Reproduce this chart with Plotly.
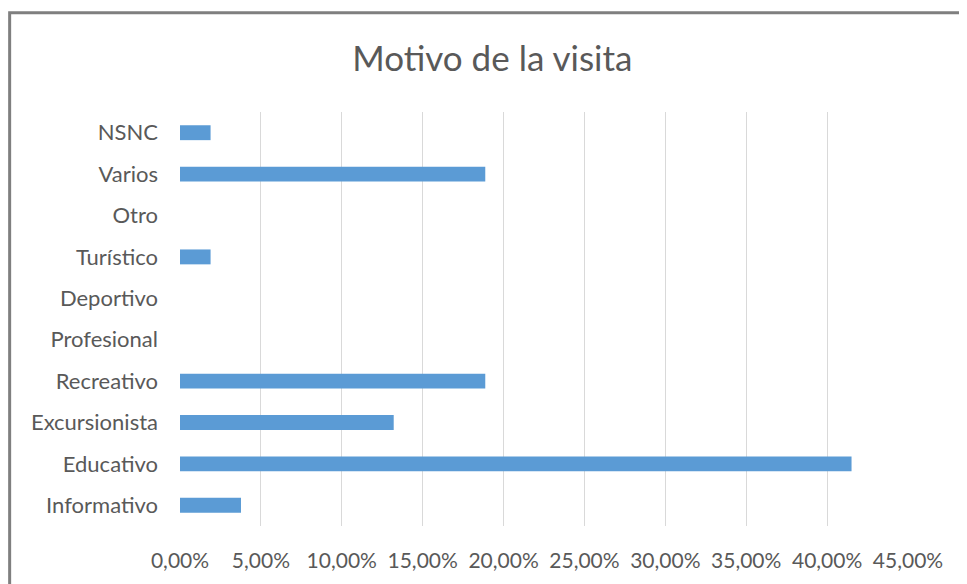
import plotly.graph_objects as go

# Motivo de la visita (53 respuestas)
categorias = ["Informativo", "Educativo", "Excursionista", "Recreativo", "Profesional",
              "Deportivo", "Turístico", "Otro", "Varios", "NSNC"]
porcentajes = [0.0377, 0.4151, 0.1321, 0.1887, 0.0, 0.0, 0.0189, 0.0, 0.1887, 0.0189]

FONT = "Lato, Roboto, sans-serif"
GRIS = "#595959"

fig = go.Figure()
fig.add_trace(
    go.Bar(
        x=porcentajes,
        y=categorias,
        orientation="h",
        marker=dict(color="#5b9bd5", line=dict(width=0)),
        width=0.36,
    )
)

# marco del gráfico (borde gris arriba/izquierda)
fig.add_shape(
    type="rect",
    xref="paper", yref="paper",
    x0=-0.234, x1=1.09, y0=-0.16, y1=1.240,
    line=dict(color="#7f7f7f", width=3),
    fillcolor="rgba(0,0,0,0)",
)

# la página tiene 8px de margen en el body -> se compensa
fig.update_layout(
    title=dict(
        text="Motivo de la visita",
        x=0.505, xanchor="center", y=0.912, yanchor="middle",
        font=dict(family=FONT, size=35, color=GRIS),
    ),
    width=959, height=576,
    margin=dict(l=172, r=59, t=104, b=56),
    paper_bgcolor="white",
    plot_bgcolor="white",
    showlegend=False,
    separators=",.",
)

fig.update_xaxes(
    range=[0, 0.45],
    dtick=0.05,
    tickformat=".2%",
    showgrid=True,
    gridcolor="#d9d9d9",
    gridwidth=1,
    zeroline=False,
    showline=False,
    ticks="",
    tickfont=dict(family=FONT, size=21, color=GRIS),
    ticklabelstandoff=20,
)
fig.update_yaxes(
    categoryorder="array",
    categoryarray=categorias,
    showgrid=False,
    showline=False,
    ticks="",
    tickfont=dict(family=FONT, size=22, color=GRIS),
    ticklabelstandoff=21,
)

fig.write_html("out.html")
